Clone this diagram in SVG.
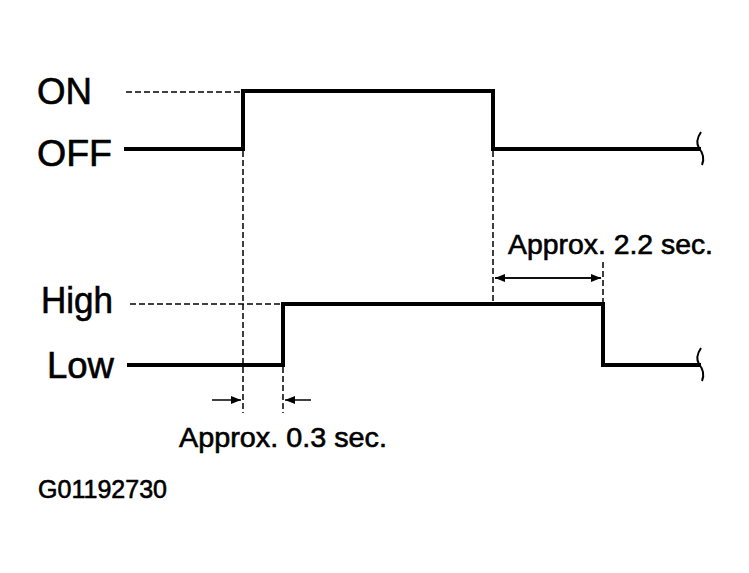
<svg xmlns="http://www.w3.org/2000/svg" width="749" height="573" viewBox="0 0 749 573">
<defs>
<marker id="ah" viewBox="0 0 10 8" refX="10" refY="4" markerWidth="10" markerHeight="8" markerUnits="userSpaceOnUse" orient="auto">
<path d="M0,0 L10,4 L0,8 Z" fill="#000"/>
</marker>
</defs>
<style>
.lbl{font-family:"Liberation Sans",Arial,sans-serif;fill:#000;stroke:#000;stroke-width:0.6}
.big{font-size:36px}
.med{font-size:27.5px}
.sm{font-size:25px}
.sig{fill:none;stroke:#000;stroke-width:4;stroke-linejoin:miter}
.dash{fill:none;stroke:#000;stroke-width:1.5;stroke-dasharray:6,3}
.dim{fill:none;stroke:#000;stroke-width:1.5}
.brk{fill:none;stroke:#000;stroke-width:2}
</style>
<rect width="749" height="573" fill="#fff"/>
<g id="labels">
<text class="lbl big" x="37" y="104" textLength="55" lengthAdjust="spacingAndGlyphs">ON</text>
<text class="lbl big" x="37" y="166" textLength="75" lengthAdjust="spacingAndGlyphs">OFF</text>
<text class="lbl big" x="41" y="313" textLength="72" lengthAdjust="spacingAndGlyphs">High</text>
<text class="lbl big" x="47" y="378" textLength="67" lengthAdjust="spacingAndGlyphs">Low</text>
<text class="lbl med" x="508" y="254" textLength="205" lengthAdjust="spacingAndGlyphs">Approx. 2.2 sec.</text>
<text class="lbl med" x="179" y="447" textLength="208" lengthAdjust="spacingAndGlyphs">Approx. 0.3 sec.</text>
<text class="lbl sm" x="38" y="498" textLength="129" lengthAdjust="spacingAndGlyphs">G01192730</text>
</g>
<g id="signal-switch">
<path class="sig" d="M124,149 H243 V91 H493 V149 H701"/>
<path class="brk" d="M701,132 C697,138 696,143 699,148 C703,153 705,158 702,165"/>
</g>
<g id="signal-output">
<path class="sig" d="M127,365 H283 V304 H603 V365 H701"/>
<path class="brk" d="M701,348 C697,354 696,359 699,364 C703,369 705,374 702,381"/>
</g>
<g id="connectors">
<line class="dash" x1="126" y1="92" x2="240" y2="92"/>
<line class="dash" x1="130" y1="304" x2="281" y2="304"/>
<line class="dash" x1="243" y1="151" x2="243" y2="413"/>
<line class="dash" x1="283" y1="367" x2="283" y2="413"/>
<line class="dash" x1="493" y1="151" x2="493" y2="302"/>
<line class="dash" x1="603" y1="262" x2="603" y2="302"/>
<line class="dim" x1="495" y1="278" x2="601" y2="278" marker-end="url(#ah)"/>
<line class="dim" x1="601" y1="278" x2="495" y2="278" marker-end="url(#ah)"/>
<line class="dim" x1="212" y1="400" x2="241" y2="400" marker-end="url(#ah)"/>
<line class="dim" x1="311" y1="400" x2="285" y2="400" marker-end="url(#ah)"/>
</g>
</svg>
